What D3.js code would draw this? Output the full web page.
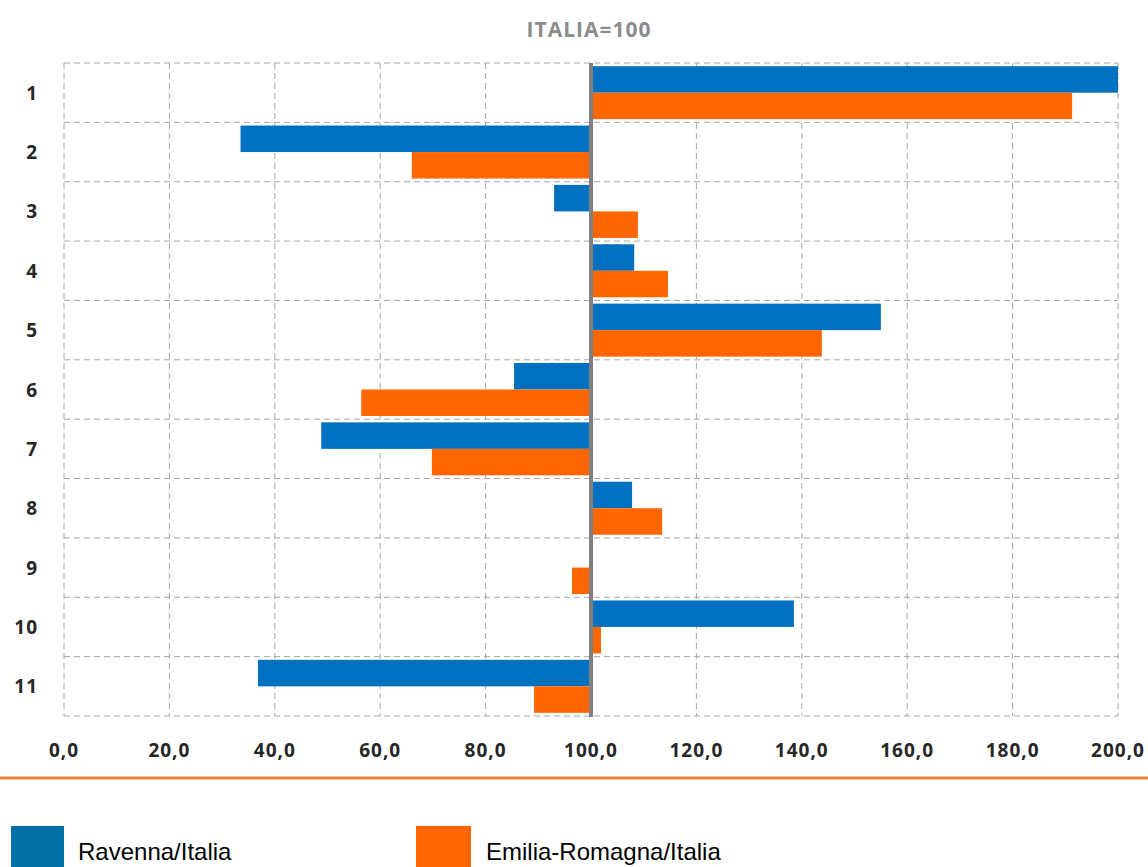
<!DOCTYPE html>
<html><head><meta charset="utf-8">
<script src="https://cdn.jsdelivr.net/npm/d3@7"></script>
<style>body{margin:0;background:#fff}svg{display:block}</style>
</head><body>
<svg id="c" width="1148" height="867"></svg>
<script>
const categories = ["1","2","3","4","5","6","7","8","9","10","11"];
const ravenna = [200.0, 33.5, 93.0, 108.2, 155.0, 85.4, 48.8, 107.8, 100.0, 138.5, 36.8];
const emilia  = [191.3, 66.0, 108.9, 114.6, 143.8, 56.4, 69.8, 113.5, 96.4, 101.9, 89.2];
const xTicks = [0,20,40,60,80,100,120,140,160,180,200];
const seriesNames = ["Ravenna/Italia","Emilia-Romagna/Italia"];
const title = "ITALIA=100";
const baseline = 100;

const svg = d3.select("#c");
const L=64, R=1118, T=63, B=716;
const x = d3.scaleLinear().domain([0,200]).range([L,R]);
const y = d3.scaleBand().domain(categories).range([T,B]);
const inner = d3.scaleBand().domain([0,1]).range([0,y.bandwidth()]).paddingOuter(0.12).paddingInner(0);

const gridColor="#a6a6a6";
svg.append("g").selectAll("line").data(xTicks).join("line")
  .attr("x1",d=>x(d)).attr("x2",d=>x(d)).attr("y1",T).attr("y2",B)
  .attr("stroke",gridColor).attr("stroke-width",1).attr("stroke-dasharray","6,4");
const hb = categories.map(c=>y(c)).concat([B]);
svg.append("g").selectAll("line").data(hb).join("line")
  .attr("x1",L).attr("x2",R).attr("y1",d=>d).attr("y2",d=>d)
  .attr("stroke",gridColor).attr("stroke-width",1).attr("stroke-dasharray","6,4");

const colors=["#0070c0","#ff6600"];
const data=[ravenna,emilia];
data.forEach((arr,si)=>{
  svg.append("g").selectAll("rect").data(arr).join("rect")
    .attr("x",d=>x(Math.min(d,baseline)))
    .attr("width",d=>Math.abs(x(d)-x(baseline)))
    .attr("y",(d,i)=>y(categories[i])+inner(si))
    .attr("height",inner.bandwidth())
    .attr("fill",colors[si]);
});
svg.append("line").attr("x1",x(baseline)).attr("x2",x(baseline)).attr("y1",T).attr("y2",B+1)
  .attr("stroke","#808080").attr("stroke-width",4);

svg.append("g").selectAll("text").data(xTicks).join("text")
  .attr("x",d=>x(d)).attr("y",757).attr("text-anchor","middle")
  .attr("font-family","'Open Sans', sans-serif").attr("font-weight","bold").attr("font-size",19)
  .attr("letter-spacing",1)
  .attr("fill","#262626").text(d=>d3.format(".1f")(d).replace(".",","));
svg.append("g").selectAll("text").data(categories).join("text")
  .attr("x",38).attr("y",d=>y(d)+y.bandwidth()/2+7).attr("text-anchor","end")
  .attr("font-family","'Open Sans', sans-serif").attr("font-weight","bold").attr("font-size",19)
  .attr("letter-spacing",1)
  .attr("fill","#262626").text(d=>d);
svg.append("text").attr("x",589).attr("y",37).attr("text-anchor","middle")
  .attr("font-family","'Open Sans', sans-serif").attr("font-weight","bold").attr("font-size",21)
  .attr("letter-spacing",1)
  .attr("fill","#8c8c8c").text(title);
svg.append("line").attr("x1",0).attr("x2",1148).attr("y1",778).attr("y2",778)
  .attr("stroke","#ed7d31").attr("stroke-width",3);
const legX=[11,416], legC=["#006fa6","#ff6600"];
seriesNames.forEach((n,i)=>{
  svg.append("rect").attr("x",legX[i]).attr("y",826).attr("width",i?55:53).attr("height",45).attr("fill",legC[i]);
  svg.append("text").attr("x",legX[i]+(i?70:67)).attr("y",860)
    .attr("font-family","'Liberation Sans Narrow','Liberation Sans',sans-serif").attr("font-size",24)
    .attr("fill","#000").text(n);
});
</script>
</body></html>
